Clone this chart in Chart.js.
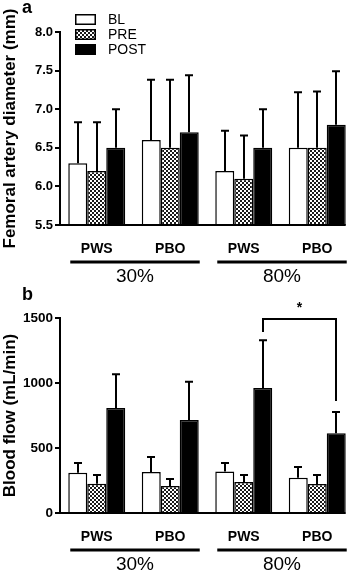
<!DOCTYPE html>
<html><head><meta charset="utf-8">
<script src="https://cdn.jsdelivr.net/npm/chart.js@4.4.0/dist/chart.umd.min.js"></script>
<style>
html,body{margin:0;padding:0;background:#fff;}
body{width:358px;height:571px;position:relative;overflow:hidden;}
canvas{position:absolute;left:0;}
#ca{top:0;}
#cb{top:285px;}
</style></head><body>
<canvas id="ca" width="358" height="285"></canvas>
<canvas id="cb" width="358" height="286"></canvas>
<script>
// ---------- data ----------
const categories = ['PWS', 'PBO', 'PWS', 'PBO'];
const intensityGroups = ['30%', '80%'];
const seriesNames = ['BL', 'PRE', 'POST'];

// Panel a: femoral artery diameter (mm), mean and SD
const diamBL   = [6.3, 6.6, 6.2, 6.5];
const diamPRE  = [6.2, 6.5, 6.1, 6.5];
const diamPOST = [6.5, 6.7, 6.5, 6.8];
const diamBLsd   = [0.53, 0.78, 0.52, 0.72];
const diamPREsd  = [0.63, 0.88, 0.56, 0.73];
const diamPOSTsd = [0.50, 0.74, 0.50, 0.69];
const diamTicks = [5.5, 6.0, 6.5, 7.0, 7.5, 8.0];

// Panel b: blood flow (mL/min), mean and SD
const flowBL   = [310, 315, 320, 272];
const flowPRE  = [225, 208, 238, 223];
const flowPOST = [808, 715, 962, 613];
const flowBLsd   = [75, 116, 65, 82];
const flowPREsd  = [67, 54, 54, 69];
const flowPOSTsd = [260, 294, 366, 164];
const flowTicks = [0, 500, 1000, 1500];

// significance: POST 80% PWS vs POST 80% PBO
const sigPair = [2, 3];
const sigLevels = [1492, 1392, 862]; // bracket top, left leg end, right leg end
const sigLabel = '*';

// ---------- styles ----------
const FONT = "'Liberation Sans', Arial, Helvetica, sans-serif";
function checker() {
  const c = document.createElement('canvas');
  c.width = 4; c.height = 4;
  const g = c.getContext('2d');
  g.fillStyle = '#fff'; g.fillRect(0, 0, 4, 4);
  g.fillStyle = '#1a1a1a';
  g.fillRect(0, 0, 2, 2); g.fillRect(2, 2, 2, 2);
  return g.createPattern(c, 'repeat');
}
const PAT = checker();
const fills = ['#ffffff', PAT, '#000000'];

function makeDatasets(means, sds) {
  return means.map((m, k) => ({
    label: seriesNames[k],
    data: m,
    sd: sds[k],
    backgroundColor: fills[k],
    borderColor: '#000',
    borderWidth: 1.5,
    borderSkipped: 'start',
    barPercentage: 1.0,
    categoryPercentage: 0.775
  }));
}

// ---------- plugins ----------
const errorBars = {
  id: 'errorBars',
  afterDatasetsDraw(chart) {
    const ctx = chart.ctx, ys = chart.scales.y;
    ctx.save();
    ctx.strokeStyle = '#000'; ctx.lineWidth = 2;
    chart.data.datasets.forEach((ds, di) => {
      const meta = chart.getDatasetMeta(di);
      meta.data.forEach((el, i) => {
        const top = ys.getPixelForValue(ds.data[i] + ds.sd[i]);
        const x = Math.round(el.x);
        ctx.beginPath();
        ctx.moveTo(x, el.y); ctx.lineTo(x, top);
        ctx.moveTo(x - 4, top); ctx.lineTo(x + 4, top);
        ctx.stroke();
      });
    });
    ctx.restore();
  }
};

const axisGroups = {
  id: 'axisGroups',
  afterDraw(chart, args, opts) {
    const ctx = chart.ctx, ca = chart.chartArea;
    const first = chart.getDatasetMeta(0).data;
    const last = chart.getDatasetMeta(chart.data.datasets.length - 1).data;
    const left = i => first[i].x - first[i].width / 2;
    const right = i => last[i].x + last[i].width / 2;
    ctx.save();
    ctx.strokeStyle = '#000'; ctx.fillStyle = '#000';
    // x axis line
    ctx.lineWidth = 2;
    ctx.beginPath();
    ctx.moveTo(ca.left - 1, ca.bottom); ctx.lineTo(right(categories.length - 1), ca.bottom);
    ctx.stroke();
    // intensity group lines + labels
    ctx.font = '19px ' + FONT;
    ctx.textAlign = 'center'; ctx.textBaseline = 'middle';
    intensityGroups.forEach((g, gi) => {
      const l = left(gi * 2) + 2, r = right(gi * 2 + 1) + 1;
      ctx.lineWidth = 3;
      ctx.beginPath();
      ctx.moveTo(l, ca.bottom + opts.lineOff); ctx.lineTo(r, ca.bottom + opts.lineOff);
      ctx.stroke();
      ctx.fillText(g, (l + r) / 2, ca.bottom + opts.textOff);
    });
    // panel letter
    ctx.font = 'bold 18px ' + FONT;
    ctx.textAlign = 'left'; ctx.textBaseline = 'alphabetic';
    ctx.fillText(opts.letter, 22, opts.letterY);
    ctx.restore();
  }
};

const legendBox = {
  id: 'legendBox',
  afterDraw(chart, args, opts) {
    if (!opts.show) return;
    const ctx = chart.ctx;
    ctx.save();
    chart.data.datasets.forEach((ds, i) => {
      const y = 14 + i * 15;
      ctx.fillStyle = ds.backgroundColor;
      ctx.fillRect(75, y, 21, 11);
      ctx.strokeStyle = '#000'; ctx.lineWidth = 1.5;
      ctx.strokeRect(75.75, y + 0.75, 19.5, 9.5);
      ctx.fillStyle = '#000';
      ctx.font = '14px ' + FONT;
      ctx.textAlign = 'left'; ctx.textBaseline = 'middle';
      ctx.fillText(ds.label, 108, y + 6);
    });
    ctx.restore();
  }
};

const sigBracket = {
  id: 'sigBracket',
  afterDraw(chart, args, opts) {
    if (!opts.show) return;
    const ctx = chart.ctx, ys = chart.scales.y;
    const meta = chart.getDatasetMeta(chart.data.datasets.length - 1).data;
    const x1 = Math.round(meta[sigPair[0]].x), x2 = Math.round(meta[sigPair[1]].x);
    const yt = ys.getPixelForValue(sigLevels[0]);
    const yl = ys.getPixelForValue(sigLevels[1]);
    const yr = ys.getPixelForValue(sigLevels[2]);
    ctx.save();
    ctx.strokeStyle = '#000'; ctx.lineWidth = 2;
    ctx.beginPath();
    ctx.moveTo(x1, yl); ctx.lineTo(x1, yt); ctx.lineTo(x2, yt); ctx.lineTo(x2, yr);
    ctx.stroke();
    ctx.fillStyle = '#000';
    ctx.font = 'bold 14px ' + FONT;
    ctx.textAlign = 'center'; ctx.textBaseline = 'middle';
    ctx.fillText(sigLabel, (x1 + x2) / 2, yt - 11);
    ctx.restore();
  }
};

function makeChart(id, means, sds, ticks, title, fmt, opt) {
  return new Chart(document.getElementById(id), {
    type: 'bar',
    data: { labels: categories, datasets: makeDatasets(means, sds) },
    plugins: [errorBars, axisGroups, legendBox, sigBracket],
    options: {
      responsive: false,
      animation: false,
      devicePixelRatio: 1,
      layout: { padding: { top: opt.top, right: 4, left: 0, bottom: 0 } },
      plugins: {
        legend: { display: false },
        tooltip: { enabled: false },
        axisGroups: { lineOff: 37, textOff: 52, letter: opt.letter, letterY: opt.letterY },
        legendBox: { show: opt.legend },
        sigBracket: { show: opt.sig }
      },
      scales: {
        x: {
          grid: { display: false },
          border: { display: false },
          ticks: { color: '#000', font: { family: FONT, size: 14, weight: 'bold' }, padding: 8, maxRotation: 0, autoSkip: false },
          afterFit(s) { s.height = opt.xh; }
        },
        y: {
          min: ticks[0], max: ticks[ticks.length - 1],
          afterBuildTicks(s) { s.ticks = ticks.map(v => ({ value: v })); },
          border: { display: true, color: '#000', width: 2 },
          grid: { drawOnChartArea: false, color: '#000', lineWidth: 2, tickLength: 5 },
          ticks: { color: '#000', font: { family: FONT, size: opt.tickSize, weight: 'bold' }, padding: 2, callback: fmt },
          title: { display: true, text: title, color: '#000', font: { family: FONT, size: 17, weight: 'bold' }, padding: 0 },
          afterFit(s) { s.width = 60; }
        }
      }
    }
  });
}

makeChart('ca', [diamBL, diamPRE, diamPOST], [diamBLsd, diamPREsd, diamPOSTsd], diamTicks,
  'Femoral artery diameter (mm)', v => Number(v).toFixed(1),
  { top: 32, xh: 60, letter: 'a', letterY: 13, legend: true, sig: false, tickSize: 13 });

makeChart('cb', [flowBL, flowPRE, flowPOST], [flowBLsd, flowPREsd, flowPOSTsd], flowTicks,
  'Blood flow (mL/min)', v => String(v),
  { top: 33, xh: 58, letter: 'b', letterY: 15, legend: false, sig: true, tickSize: 13.5 });
</script>
</body></html>
